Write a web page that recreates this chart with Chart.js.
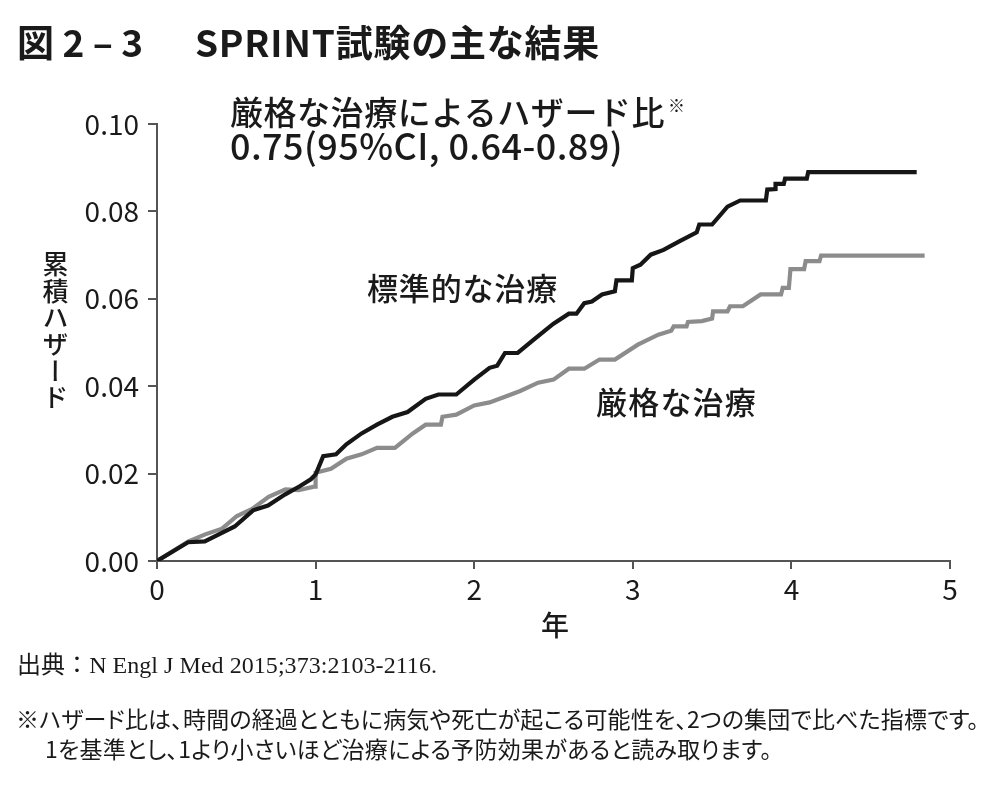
<!DOCTYPE html>
<html><head><meta charset="utf-8">
<script src="https://cdn.jsdelivr.net/npm/chart.js@4.4.1/dist/chart.umd.min.js"></script>
<style>
html,body{margin:0;padding:0;background:#fff;}
body{width:1000px;height:786px;position:relative;overflow:hidden;font-family:"Noto Sans CJK JP","Noto Sans",sans-serif;color:#1a1a1a;}
#wrap{position:absolute;left:0;top:0;width:1000px;height:786px;}
.t{position:absolute;white-space:nowrap;line-height:1;}
</style></head>
<body>
<div id="wrap"><canvas id="c"></canvas></div>
<div class="t" id="title1" style="left:17px;top:23px;font-size:37px;font-weight:700;">図 2 – 3</div>
<div class="t fit" id="title2" data-w="405" style="left:195px;top:23px;font-size:37px;font-weight:700;">SPRINT試験の主な結果</div>
<div class="t fit" id="ann1" data-w="435" style="left:230px;top:95px;font-size:33px;font-weight:500;">厳格な治療によるハザード比</div>
<div class="t" id="ann1s" style="left:668px;top:96px;font-size:17px;font-weight:500;">※</div>
<div class="t fit" id="ann2" data-w="393" style="left:230px;top:126px;font-size:36px;font-weight:500;">0.75(95%CI, 0.64-0.89)</div>
<div class="t fit" id="lblStd" data-w="191" style="left:367px;top:271px;font-size:31px;font-weight:500;">標準的な治療</div>
<div class="t fit" id="lblInt" data-w="161" style="left:596px;top:385px;font-size:31px;font-weight:500;">厳格な治療</div>
<div class="t" id="ytitle" style="left:42px;top:251px;font-size:26px;font-weight:500;writing-mode:vertical-rl;text-orientation:upright;letter-spacing:0.7px;">累積ハザード</div>
<div class="t" id="xtitle" style="left:541px;top:610px;font-size:28px;font-weight:500;">年</div>
<div class="t fit" id="src" data-w="420" style="left:17px;top:653px;font-size:24px;font-family:'Liberation Serif','Noto Sans CJK JP',serif;">出典：N Engl J Med 2015;373:2103-2116.</div>
<div class="t fit" id="foot1" data-w="963" style="left:16px;top:707px;font-size:23px;font-feature-settings:'palt';">※ハザード比は、時間の経過とともに病気や死亡が起こる可能性を、2つの集団で比べた指標です。</div>
<div class="t fit" id="foot2" data-w="727" style="left:45px;top:737px;font-size:23px;font-feature-settings:'palt';">1を基準とし、1より小さいほど治療による予防効果があると読み取ります。</div>
<script>
// 標準的な治療 (standard treatment)
const stdTime = [0, 0.196, 0.301, 0.406, 0.49, 0.606, 0.70, 0.806, 0.90, 0.97, 1.0, 1.048, 1.129, 1.194, 1.29, 1.387, 1.484, 1.58, 1.694, 1.774, 1.887, 2.0, 2.097, 2.145, 2.194, 2.274, 2.387, 2.5, 2.597, 2.645, 2.694, 2.742, 2.806, 2.887, 2.897, 2.994, 3.0, 3.048, 3.113, 3.194, 3.29, 3.403, 3.419, 3.5, 3.597, 3.677, 3.839, 3.848, 3.9, 3.9, 3.952, 3.96, 4.097, 4.106, 4.79];
const stdHazard = [0, 0.0043, 0.0045, 0.0064, 0.0079, 0.0116, 0.0127, 0.0152, 0.0171, 0.0187, 0.0198, 0.024, 0.0244, 0.0267, 0.0292, 0.0312, 0.033, 0.0341, 0.0371, 0.0381, 0.0381, 0.0415, 0.0442, 0.0447, 0.0476, 0.0476, 0.051, 0.0543, 0.0566, 0.0566, 0.059, 0.0594, 0.061, 0.0617, 0.0642, 0.0642, 0.067, 0.0678, 0.0701, 0.0712, 0.0731, 0.0752, 0.077, 0.077, 0.0811, 0.0825, 0.0825, 0.085, 0.0851, 0.0863, 0.0863, 0.0875, 0.0875, 0.089, 0.089];
// 厳格な治療 (intensive treatment)
const intTime = [0, 0.199, 0.304, 0.41, 0.504, 0.6, 0.704, 0.81, 0.893, 0.99, 1.0, 1.0, 1.097, 1.194, 1.29, 1.387, 1.5, 1.613, 1.694, 1.79, 1.8, 1.887, 2.0, 2.097, 2.194, 2.29, 2.403, 2.5, 2.597, 2.694, 2.79, 2.887, 3.032, 3.161, 3.242, 3.258, 3.339, 3.348, 3.435, 3.5, 3.506, 3.597, 3.613, 3.694, 3.806, 3.935, 3.945, 3.984, 3.994, 4.08, 4.09, 4.177, 4.187, 4.84];
const intHazard = [0, 0.0045, 0.0061, 0.0074, 0.0103, 0.0119, 0.0147, 0.0164, 0.0162, 0.017, 0.017, 0.0202, 0.0211, 0.0234, 0.0244, 0.0259, 0.0259, 0.0292, 0.0312, 0.0312, 0.033, 0.0335, 0.0356, 0.0363, 0.0376, 0.0389, 0.0408, 0.0415, 0.044, 0.044, 0.0461, 0.0461, 0.0495, 0.0518, 0.0527, 0.0537, 0.0537, 0.0547, 0.0549, 0.0555, 0.0571, 0.0571, 0.0583, 0.0583, 0.061, 0.061, 0.0625, 0.0625, 0.0668, 0.0668, 0.0686, 0.0686, 0.0699, 0.0699];
const xTicks = [0, 1, 2, 3, 4, 5];
const yTicks = [0, 0.02, 0.04, 0.06, 0.08, 0.10];

// fit text widths
document.querySelectorAll('.fit').forEach(el => {
  const target = +el.dataset.w;
  const w = el.getBoundingClientRect().width;
  const n = [...el.textContent].length;
  el.style.letterSpacing = ((target - w) / n) + 'px';
});

const toXY = (xs, ys) => xs.map((x, i) => ({x: x, y: ys[i]}));
const axisColor = '#555';
const fontFam = '"Noto Sans CJK JP","Noto Sans",sans-serif';
new Chart(document.getElementById('c'), {
  type: 'line',
  data: {
    datasets: [
      {label: '標準的な治療', data: toXY(stdTime, stdHazard), borderColor: '#161616', borderWidth: 4.2, pointRadius: 0, tension: 0, fill: false},
      {label: '厳格な治療', data: toXY(intTime, intHazard), borderColor: '#8c8c8c', borderWidth: 4.2, pointRadius: 0, tension: 0, fill: false}
    ]
  },
  options: {
    responsive: true, maintainAspectRatio: false, animation: false,
    layout: {padding: {top: 124, right: 50, bottom: 0, left: 0}},
    plugins: {legend: {display: false}, tooltip: {enabled: false}, title: {display: false}},
    scales: {
      x: {
        type: 'linear', min: 0, max: 5,
        afterBuildTicks: s => { s.ticks = xTicks.map(v => ({value: v})); },
        afterFit: s => { s.height = 225; },
        grid: {display: true, drawOnChartArea: false, drawTicks: true, tickLength: 8, color: axisColor, lineWidth: 2},
        border: {display: true, color: axisColor, width: 2},
        ticks: {color: '#1a1a1a', padding: 4, font: {family: fontFam, size: 28}, maxRotation: 0, callback: v => String(v)}
      },
      y: {
        type: 'linear', min: 0, max: 0.1,
        afterBuildTicks: s => { s.ticks = yTicks.map(v => ({value: v})); },
        afterFit: s => { s.width = 157; },
        grid: {display: true, drawOnChartArea: false, drawTicks: true, tickLength: 9, color: axisColor, lineWidth: 2},
        border: {display: true, color: axisColor, width: 2},
        ticks: {color: '#1a1a1a', padding: 9, font: {family: fontFam, size: 28}, callback: v => v.toFixed(2)}
      }
    }
  }
});
</script>
</body></html>
